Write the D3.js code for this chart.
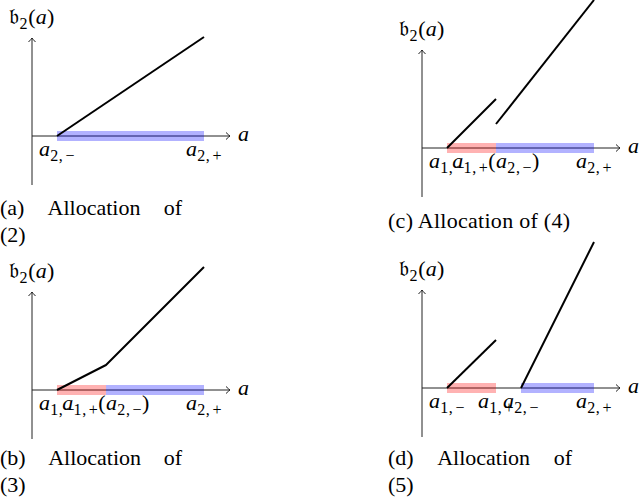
<!DOCTYPE html>
<html>
<head>
<meta charset="utf-8">
<script src="https://cdn.jsdelivr.net/npm/d3@7"></script>
<style>
  html, body { margin: 0; padding: 0; background: #fff; }
  svg { display: block; }
  svg text { font-family: "Liberation Serif", "DejaVu Serif", serif; }
</style>
</head>
<body>
<svg id="chart" width="640" height="503"></svg>
<script>
// ---------- data ----------
const panelIds = ["a", "b", "c", "d"];
const captionLines = [
  ["(a) Allocation of", "(2)"],
  ["(b) Allocation of", "(3)"],
  ["(c) Allocation of (4)"],
  ["(d) Allocation of", "(5)"]
];
const yAxisLabel = "𝔟_{2}(a)";
const xAxisLabel = "a";
// piecewise-linear allocation curves, [a, b2(a)] in abstract units
const curveA = [[[1.25, 0], [8.6, 4.95]]];
const curveB = [[[1.25, 0], [3.7, 1.25], [8.6, 6.15]]];
const curveC = [[[1.25, 0], [3.7, 2.45]], [[3.7, 1.2], [8.6, 7.4]]];
const curveD = [[[1.25, 0], [3.7, 2.4]], [[4.95, 0], [8.6, 7.3]]];
const curves = [curveA, curveB, curveC, curveD];
// allocated intervals
const redBands = [[], [[1.25, 3.7]], [[1.25, 3.7]], [[1.25, 3.7]]];
const blueBands = [[[1.25, 8.6]], [[3.7, 8.6]], [[3.7, 8.6]], [[4.95, 8.6]]];
// ticks on the a-axis
const tickValues = [
  [1.25, 8.6],
  [1.25, 3.7, 8.6],
  [1.25, 3.7, 8.6],
  [1.25, 3.7, 4.95, 8.6]
];
const tickLabels = [
  ["a_{2,−}", "a_{2,+}"],
  ["a_{1,−}", "a_{1,+}(a_{2,−})", "a_{2,+}"],
  ["a_{1,−}", "a_{1,+}(a_{2,−})", "a_{2,+}"],
  ["a_{1,−}", "a_{1,+}", "a_{2,−}", "a_{2,+}"]
];
const axisExtentX = [0, 9.9];
const axisExtentY = [-2.45, 4.9];

// ---------- layout ----------
const origins = [[32, 136], [32, 390], [422, 148], [422, 388]];
const captionLayout = [
  { x: 0, width: 182, baselines: [215, 242] },
  { x: 0, width: 182, baselines: [465, 492] },
  { x: 388, width: 182, baselines: [228] },
  { x: 388, width: 184, baselines: [465, 492] }
];
const MAIN = 22, SUB = 16, SUBSHIFT = 5;

const svg = d3.select("#chart");

// math-ish text: "x_{sub}" parts; letters italic
function mathText(sel, str) {
  const parts = [];
  const re = /_\{([^}]*)\}/g;
  let last = 0, m;
  while ((m = re.exec(str)) !== null) {
    if (m.index > last) parts.push({ t: str.slice(last, m.index), sub: false });
    parts.push({ t: m[1], sub: true });
    last = re.lastIndex;
  }
  if (last < str.length) parts.push({ t: str.slice(last), sub: false });
  let shifted = false;
  parts.forEach(p => {
    const chunks = p.sub ? [p.t.replace(",", ",\u200A")] : p.t.match(/[a-z]+|[^a-z]+/g);
    chunks.forEach(c => {
      const ts = sel.append("tspan").text(c)
        .attr("font-size", p.sub ? SUB : MAIN)
        .attr("letter-spacing", p.sub ? 0.6 : 0.3)
        .attr("font-style", (!p.sub && /^[a-z]+$/.test(c)) ? "italic" : "normal");
      if (p.sub && !shifted) { ts.attr("dy", SUBSHIFT); shifted = true; }
      else if (!p.sub && shifted) { ts.attr("dy", -SUBSHIFT); shifted = false; }
    });
  });
  return sel;
}

panelIds.forEach((id, i) => {
  const [ox, oy] = origins[i];
  const x = d3.scaleLinear().domain([0, 10]).range([ox, ox + 200]);
  const y = d3.scaleLinear().domain([0, 5]).range([oy, oy - 100]);
  const g = svg.append("g").attr("class", "panel-" + id);

  // axes
  const axisG = g.append("g").attr("stroke", "#222").attr("stroke-width", 1).attr("fill", "none");
  axisG.append("line")
    .attr("x1", x(axisExtentX[0])).attr("x2", x(axisExtentX[1]))
    .attr("y1", y(0)).attr("y2", y(0));
  axisG.append("line")
    .attr("x1", x(0)).attr("x2", x(0))
    .attr("y1", y(axisExtentY[0])).attr("y2", y(axisExtentY[1]));
  const tx = x(axisExtentX[1]), ty = y(0);
  axisG.append("path")
    .attr("d", `M${tx - 4},${ty - 3.5} Q${tx - 1},${ty - 0.6} ${tx},${ty} Q${tx - 1},${ty + 0.6} ${tx - 4},${ty + 3.5}`);
  const ux = x(0), uy = y(axisExtentY[1]);
  axisG.append("path")
    .attr("d", `M${ux - 3.5},${uy + 4} Q${ux - 0.6},${uy + 1} ${ux},${uy} Q${ux + 0.6},${uy + 1} ${ux + 3.5},${uy + 4}`);

  // bands
  g.selectAll("rect.red").data(redBands[i]).join("rect").attr("class", "red")
    .attr("x", d => x(d[0])).attr("width", d => x(d[1]) - x(d[0]))
    .attr("y", y(0) - 5).attr("height", 10)
    .attr("fill", "#ff0000").attr("fill-opacity", 0.3);
  g.selectAll("rect.blue").data(blueBands[i]).join("rect").attr("class", "blue")
    .attr("x", d => x(d[0])).attr("width", d => x(d[1]) - x(d[0]))
    .attr("y", y(0) - 5).attr("height", 10)
    .attr("fill", "#0000ff").attr("fill-opacity", 0.3);

  // curves
  const line = d3.line().x(d => x(d[0])).y(d => y(d[1]));
  g.selectAll("path.curve").data(curves[i]).join("path").attr("class", "curve")
    .attr("d", line).attr("fill", "none").attr("stroke", "#000")
    .attr("stroke-width", 2).attr("stroke-linejoin", "round");

  // tick labels
  tickValues[i].forEach((v, k) => {
    const t = g.append("text")
      .attr("x", x(v)).attr("y", y(0) + 20)
      .attr("text-anchor", "middle").attr("fill", "#000");
    mathText(t, tickLabels[i][k]);
  });

  // axis labels
  g.append("text").attr("x", tx + 8).attr("y", ty + 5)
    .attr("font-size", MAIN).attr("font-style", "italic")
    .text(xAxisLabel);
  const yl = g.append("text").attr("x", ux).attr("y", uy - 14)
    .attr("text-anchor", "middle");
  mathText(yl, yAxisLabel);

  // caption
  const cl = captionLayout[i];
  captionLines[i].forEach((ln, k) => {
    const isLast = k === captionLines[i].length - 1;
    const words = ln.split(" ");
    if (captionLines[i].length === 1) {
      svg.append("text").attr("x", cl.x).attr("y", cl.baselines[k])
        .attr("font-size", MAIN).attr("textLength", cl.width)
        .attr("lengthAdjust", "spacing").text(ln);
    } else if (isLast) {
      svg.append("text").attr("x", cl.x).attr("y", cl.baselines[k])
        .attr("font-size", MAIN).text(ln);
    } else {
      const nodes = words.map(w => svg.append("text").attr("y", cl.baselines[k])
        .attr("font-size", MAIN).text(w));
      const widths = nodes.map(n => n.node().getComputedTextLength());
      const gap = (cl.width - d3.sum(widths)) / (words.length - 1);
      let cx = cl.x;
      nodes.forEach((n, j) => { n.attr("x", cx); cx += widths[j] + gap; });
    }
  });
});
</script>
</body>
</html>
